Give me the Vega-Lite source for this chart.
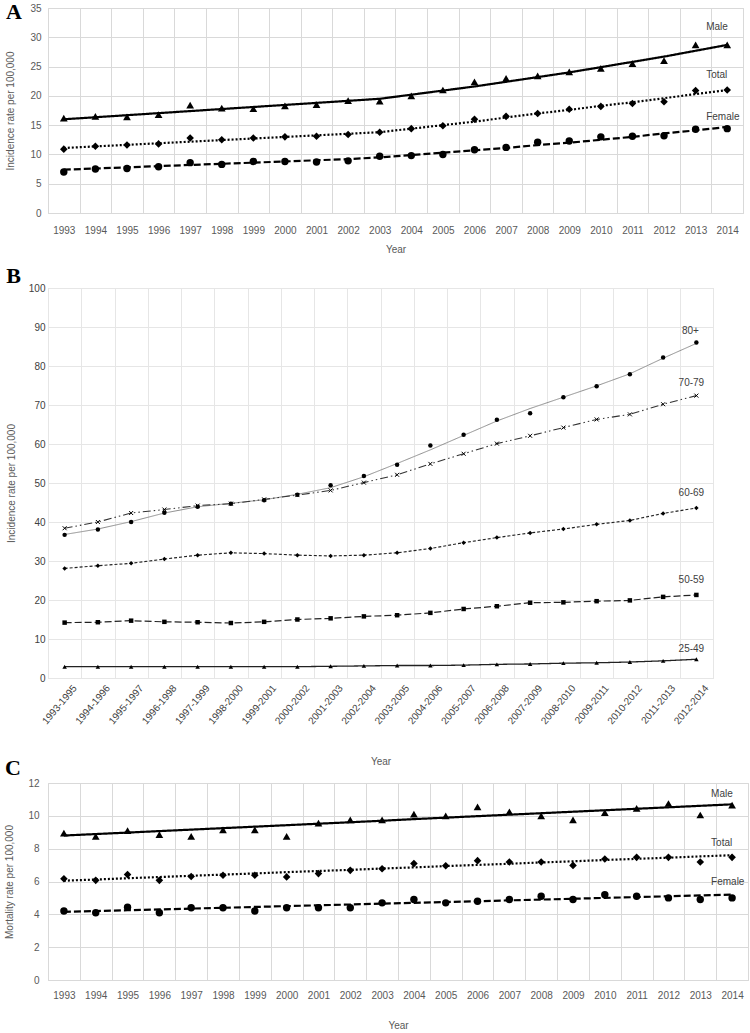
{
  "$schema": "https://vega.github.io/schema/vega-lite/v6.json",
  "padding": {"left": 4, "top": 0, "right": 0, "bottom": 0},
  "background": "white",
  "spacing": -12,
  "align": "none",
  "resolve": {"scale": {"shape": "independent", "size": "independent", "strokeDash": "independent", "color": "independent", "strokeWidth": "independent"}},
  "config": {
    "font": "Liberation Sans",
    "view": {"stroke": "#d9d9d9"},
    "axis": {
      "labelFont": "Liberation Sans", "titleFont": "Liberation Sans",
      "labelFontSize": 10, "titleFontSize": 10, "titleFontWeight": "normal",
      "labelColor": "#595959", "titleColor": "#595959",
      "gridColor": "#d9d9d9", "domainColor": "#d9d9d9", "ticks": false
    },
    "title": {"anchor": "start", "frame": "bounds", "font": "Liberation Serif", "fontSize": 22, "fontWeight": "bold", "color": "black", "offset": 0},
    "text": {"font": "Liberation Sans", "fontSize": 10, "color": "#404040"}
  },
  "datasets": {
    "incidence": [
      {"year":1993,"sex":"Male","rate":16.2,"fit":16.0},{"year":1994,"sex":"Male","rate":16.5,"fit":16.35},{"year":1995,"sex":"Male","rate":16.4,"fit":16.7},{"year":1996,"sex":"Male","rate":16.8,"fit":17.05},{"year":1997,"sex":"Male","rate":18.4,"fit":17.4},{"year":1998,"sex":"Male","rate":17.9,"fit":17.75},{"year":1999,"sex":"Male","rate":17.8,"fit":18.1},{"year":2000,"sex":"Male","rate":18.3,"fit":18.45},{"year":2001,"sex":"Male","rate":18.5,"fit":18.8},{"year":2002,"sex":"Male","rate":19.2,"fit":19.15},{"year":2003,"sex":"Male","rate":19.1,"fit":19.5},{"year":2004,"sex":"Male","rate":20.0,"fit":20.2},{"year":2005,"sex":"Male","rate":21.0,"fit":20.9},{"year":2006,"sex":"Male","rate":22.4,"fit":21.6},{"year":2007,"sex":"Male","rate":23.0,"fit":22.4},{"year":2008,"sex":"Male","rate":23.4,"fit":23.2},{"year":2009,"sex":"Male","rate":24.1,"fit":24.0},{"year":2010,"sex":"Male","rate":24.7,"fit":24.9},{"year":2011,"sex":"Male","rate":25.5,"fit":25.8},{"year":2012,"sex":"Male","rate":26.0,"fit":26.7},{"year":2013,"sex":"Male","rate":28.7,"fit":27.7},{"year":2014,"sex":"Male","rate":28.7,"fit":28.7},
      {"year":1993,"sex":"Total","rate":10.9,"fit":11.1},{"year":1994,"sex":"Total","rate":11.4,"fit":11.37},{"year":1995,"sex":"Total","rate":11.6,"fit":11.64},{"year":1996,"sex":"Total","rate":11.8,"fit":11.91},{"year":1997,"sex":"Total","rate":12.8,"fit":12.18},{"year":1998,"sex":"Total","rate":12.5,"fit":12.45},{"year":1999,"sex":"Total","rate":12.8,"fit":12.72},{"year":2000,"sex":"Total","rate":13.0,"fit":12.99},{"year":2001,"sex":"Total","rate":13.1,"fit":13.26},{"year":2002,"sex":"Total","rate":13.4,"fit":13.53},{"year":2003,"sex":"Total","rate":13.8,"fit":13.8},{"year":2004,"sex":"Total","rate":14.4,"fit":14.4},{"year":2005,"sex":"Total","rate":14.9,"fit":15.0},{"year":2006,"sex":"Total","rate":16.0,"fit":15.6},{"year":2007,"sex":"Total","rate":16.5,"fit":16.3},{"year":2008,"sex":"Total","rate":17.0,"fit":17.0},{"year":2009,"sex":"Total","rate":17.7,"fit":17.6},{"year":2010,"sex":"Total","rate":18.2,"fit":18.3},{"year":2011,"sex":"Total","rate":18.7,"fit":18.9},{"year":2012,"sex":"Total","rate":19.0,"fit":19.6},{"year":2013,"sex":"Total","rate":20.9,"fit":20.3},{"year":2014,"sex":"Total","rate":21.0,"fit":21.0},
      {"year":1993,"sex":"Female","rate":7.0,"fit":7.4},{"year":1994,"sex":"Female","rate":7.5,"fit":7.6},{"year":1995,"sex":"Female","rate":7.6,"fit":7.8},{"year":1996,"sex":"Female","rate":7.9,"fit":8.0},{"year":1997,"sex":"Female","rate":8.6,"fit":8.2},{"year":1998,"sex":"Female","rate":8.3,"fit":8.4},{"year":1999,"sex":"Female","rate":8.8,"fit":8.6},{"year":2000,"sex":"Female","rate":8.8,"fit":8.8},{"year":2001,"sex":"Female","rate":8.7,"fit":9.0},{"year":2002,"sex":"Female","rate":8.9,"fit":9.2},{"year":2003,"sex":"Female","rate":9.7,"fit":9.5},{"year":2004,"sex":"Female","rate":9.8,"fit":9.9},{"year":2005,"sex":"Female","rate":10.0,"fit":10.3},{"year":2006,"sex":"Female","rate":10.8,"fit":10.7},{"year":2007,"sex":"Female","rate":11.2,"fit":11.1},{"year":2008,"sex":"Female","rate":12.1,"fit":11.6},{"year":2009,"sex":"Female","rate":12.3,"fit":12.0},{"year":2010,"sex":"Female","rate":13.0,"fit":12.5},{"year":2011,"sex":"Female","rate":13.1,"fit":13.0},{"year":2012,"sex":"Female","rate":13.2,"fit":13.6},{"year":2013,"sex":"Female","rate":14.3,"fit":14.1},{"year":2014,"sex":"Female","rate":14.4,"fit":14.7}
    ],
    "age": [
      {"period":"1993-1995","age":"80+","rate":36.7,"fit":36.8},{"period":"1994-1996","age":"80+","rate":38.1,"fit":38.2},{"period":"1995-1997","age":"80+","rate":40.0,"fit":40.1},{"period":"1996-1998","age":"80+","rate":42.4,"fit":42.3},{"period":"1997-1999","age":"80+","rate":43.9,"fit":43.9},{"period":"1998-2000","age":"80+","rate":44.7,"fit":44.8},{"period":"1999-2001","age":"80+","rate":45.6,"fit":45.7},{"period":"2000-2002","age":"80+","rate":47.0,"fit":47.1},{"period":"2001-2003","age":"80+","rate":49.4,"fit":48.8},{"period":"2002-2004","age":"80+","rate":51.8,"fit":51.6},{"period":"2003-2005","age":"80+","rate":54.7,"fit":55.0},{"period":"2004-2006","age":"80+","rate":59.6,"fit":58.5},{"period":"2005-2007","age":"80+","rate":62.4,"fit":62.2},{"period":"2006-2008","age":"80+","rate":66.2,"fit":65.9},{"period":"2007-2009","age":"80+","rate":67.9,"fit":69.1},{"period":"2008-2010","age":"80+","rate":72.0,"fit":72.0},{"period":"2009-2011","age":"80+","rate":74.8,"fit":74.9},{"period":"2010-2012","age":"80+","rate":77.9,"fit":78.0},{"period":"2011-2013","age":"80+","rate":82.2,"fit":82.0},{"period":"2012-2014","age":"80+","rate":86.0,"fit":85.8},
      {"period":"1993-1995","age":"70-79","rate":38.4,"fit":38.4},{"period":"1994-1996","age":"70-79","rate":40.0,"fit":40.0},{"period":"1995-1997","age":"70-79","rate":42.3,"fit":42.3},{"period":"1996-1998","age":"70-79","rate":43.2,"fit":43.2},{"period":"1997-1999","age":"70-79","rate":44.2,"fit":44.2},{"period":"1998-2000","age":"70-79","rate":44.7,"fit":44.7},{"period":"1999-2001","age":"70-79","rate":45.8,"fit":45.8},{"period":"2000-2002","age":"70-79","rate":46.9,"fit":46.9},{"period":"2001-2003","age":"70-79","rate":48.1,"fit":48.1},{"period":"2002-2004","age":"70-79","rate":50.1,"fit":50.1},{"period":"2003-2005","age":"70-79","rate":52.1,"fit":52.1},{"period":"2004-2006","age":"70-79","rate":54.9,"fit":54.9},{"period":"2005-2007","age":"70-79","rate":57.5,"fit":57.5},{"period":"2006-2008","age":"70-79","rate":60.1,"fit":60.1},{"period":"2007-2009","age":"70-79","rate":62.1,"fit":62.1},{"period":"2008-2010","age":"70-79","rate":64.2,"fit":64.2},{"period":"2009-2011","age":"70-79","rate":66.3,"fit":66.3},{"period":"2010-2012","age":"70-79","rate":67.6,"fit":67.6},{"period":"2011-2013","age":"70-79","rate":70.2,"fit":70.2},{"period":"2012-2014","age":"70-79","rate":72.4,"fit":72.4},
      {"period":"1993-1995","age":"60-69","rate":28.1,"fit":28.1},{"period":"1994-1996","age":"60-69","rate":28.8,"fit":28.8},{"period":"1995-1997","age":"60-69","rate":29.4,"fit":29.4},{"period":"1996-1998","age":"60-69","rate":30.5,"fit":30.5},{"period":"1997-1999","age":"60-69","rate":31.5,"fit":31.5},{"period":"1998-2000","age":"60-69","rate":32.1,"fit":32.1},{"period":"1999-2001","age":"60-69","rate":31.9,"fit":31.9},{"period":"2000-2002","age":"60-69","rate":31.5,"fit":31.5},{"period":"2001-2003","age":"60-69","rate":31.3,"fit":31.3},{"period":"2002-2004","age":"60-69","rate":31.5,"fit":31.5},{"period":"2003-2005","age":"60-69","rate":32.1,"fit":32.1},{"period":"2004-2006","age":"60-69","rate":33.2,"fit":33.2},{"period":"2005-2007","age":"60-69","rate":34.7,"fit":34.7},{"period":"2006-2008","age":"60-69","rate":36.0,"fit":36.0},{"period":"2007-2009","age":"60-69","rate":37.2,"fit":37.2},{"period":"2008-2010","age":"60-69","rate":38.2,"fit":38.2},{"period":"2009-2011","age":"60-69","rate":39.4,"fit":39.4},{"period":"2010-2012","age":"60-69","rate":40.4,"fit":40.4},{"period":"2011-2013","age":"60-69","rate":42.2,"fit":42.2},{"period":"2012-2014","age":"60-69","rate":43.6,"fit":43.6},
      {"period":"1993-1995","age":"50-59","rate":14.2,"fit":14.2},{"period":"1994-1996","age":"50-59","rate":14.3,"fit":14.3},{"period":"1995-1997","age":"50-59","rate":14.7,"fit":14.7},{"period":"1996-1998","age":"50-59","rate":14.4,"fit":14.4},{"period":"1997-1999","age":"50-59","rate":14.3,"fit":14.3},{"period":"1998-2000","age":"50-59","rate":14.1,"fit":14.1},{"period":"1999-2001","age":"50-59","rate":14.4,"fit":14.4},{"period":"2000-2002","age":"50-59","rate":15.0,"fit":15.0},{"period":"2001-2003","age":"50-59","rate":15.3,"fit":15.3},{"period":"2002-2004","age":"50-59","rate":15.8,"fit":15.8},{"period":"2003-2005","age":"50-59","rate":16.1,"fit":16.1},{"period":"2004-2006","age":"50-59","rate":16.7,"fit":16.7},{"period":"2005-2007","age":"50-59","rate":17.7,"fit":17.7},{"period":"2006-2008","age":"50-59","rate":18.4,"fit":18.4},{"period":"2007-2009","age":"50-59","rate":19.3,"fit":19.3},{"period":"2008-2010","age":"50-59","rate":19.4,"fit":19.4},{"period":"2009-2011","age":"50-59","rate":19.7,"fit":19.7},{"period":"2010-2012","age":"50-59","rate":19.9,"fit":19.9},{"period":"2011-2013","age":"50-59","rate":20.8,"fit":20.8},{"period":"2012-2014","age":"50-59","rate":21.3,"fit":21.3},
      {"period":"1993-1995","age":"25-49","rate":2.9,"fit":2.9},{"period":"1994-1996","age":"25-49","rate":2.9,"fit":2.9},{"period":"1995-1997","age":"25-49","rate":2.9,"fit":2.9},{"period":"1996-1998","age":"25-49","rate":2.9,"fit":2.9},{"period":"1997-1999","age":"25-49","rate":2.9,"fit":2.9},{"period":"1998-2000","age":"25-49","rate":2.9,"fit":2.9},{"period":"1999-2001","age":"25-49","rate":2.9,"fit":2.9},{"period":"2000-2002","age":"25-49","rate":2.9,"fit":2.9},{"period":"2001-2003","age":"25-49","rate":3.0,"fit":3.0},{"period":"2002-2004","age":"25-49","rate":3.1,"fit":3.1},{"period":"2003-2005","age":"25-49","rate":3.2,"fit":3.2},{"period":"2004-2006","age":"25-49","rate":3.2,"fit":3.2},{"period":"2005-2007","age":"25-49","rate":3.3,"fit":3.3},{"period":"2006-2008","age":"25-49","rate":3.5,"fit":3.5},{"period":"2007-2009","age":"25-49","rate":3.6,"fit":3.6},{"period":"2008-2010","age":"25-49","rate":3.8,"fit":3.8},{"period":"2009-2011","age":"25-49","rate":3.9,"fit":3.9},{"period":"2010-2012","age":"25-49","rate":4.1,"fit":4.1},{"period":"2011-2013","age":"25-49","rate":4.4,"fit":4.4},{"period":"2012-2014","age":"25-49","rate":4.8,"fit":4.8}
    ],
    "mortality": [
      {"year":1993,"sex":"Male","rate":8.95,"fit":8.8},{"year":1994,"sex":"Male","rate":8.75,"fit":8.89},{"year":1995,"sex":"Male","rate":9.1,"fit":8.98},{"year":1996,"sex":"Male","rate":8.85,"fit":9.07},{"year":1997,"sex":"Male","rate":8.75,"fit":9.16},{"year":1998,"sex":"Male","rate":9.15,"fit":9.25},{"year":1999,"sex":"Male","rate":9.15,"fit":9.34},{"year":2000,"sex":"Male","rate":8.75,"fit":9.43},{"year":2001,"sex":"Male","rate":9.55,"fit":9.52},{"year":2002,"sex":"Male","rate":9.75,"fit":9.61},{"year":2003,"sex":"Male","rate":9.75,"fit":9.7},{"year":2004,"sex":"Male","rate":10.1,"fit":9.8},{"year":2005,"sex":"Male","rate":10.0,"fit":9.89},{"year":2006,"sex":"Male","rate":10.55,"fit":9.98},{"year":2007,"sex":"Male","rate":10.25,"fit":10.07},{"year":2008,"sex":"Male","rate":10.0,"fit":10.16},{"year":2009,"sex":"Male","rate":9.75,"fit":10.25},{"year":2010,"sex":"Male","rate":10.2,"fit":10.34},{"year":2011,"sex":"Male","rate":10.45,"fit":10.43},{"year":2012,"sex":"Male","rate":10.75,"fit":10.52},{"year":2013,"sex":"Male","rate":10.05,"fit":10.61},{"year":2014,"sex":"Male","rate":10.65,"fit":10.7},
      {"year":1993,"sex":"Total","rate":6.17,"fit":6.05},{"year":1994,"sex":"Total","rate":6.07,"fit":6.12},{"year":1995,"sex":"Total","rate":6.42,"fit":6.2},{"year":1996,"sex":"Total","rate":6.07,"fit":6.27},{"year":1997,"sex":"Total","rate":6.3,"fit":6.35},{"year":1998,"sex":"Total","rate":6.38,"fit":6.42},{"year":1999,"sex":"Total","rate":6.38,"fit":6.49},{"year":2000,"sex":"Total","rate":6.28,"fit":6.57},{"year":2001,"sex":"Total","rate":6.48,"fit":6.64},{"year":2002,"sex":"Total","rate":6.68,"fit":6.71},{"year":2003,"sex":"Total","rate":6.78,"fit":6.79},{"year":2004,"sex":"Total","rate":7.09,"fit":6.86},{"year":2005,"sex":"Total","rate":6.96,"fit":6.94},{"year":2006,"sex":"Total","rate":7.27,"fit":7.01},{"year":2007,"sex":"Total","rate":7.19,"fit":7.08},{"year":2008,"sex":"Total","rate":7.19,"fit":7.16},{"year":2009,"sex":"Total","rate":6.98,"fit":7.23},{"year":2010,"sex":"Total","rate":7.37,"fit":7.31},{"year":2011,"sex":"Total","rate":7.47,"fit":7.38},{"year":2012,"sex":"Total","rate":7.47,"fit":7.45},{"year":2013,"sex":"Total","rate":7.19,"fit":7.53},{"year":2014,"sex":"Total","rate":7.47,"fit":7.6},
      {"year":1993,"sex":"Female","rate":4.2,"fit":4.15},{"year":1994,"sex":"Female","rate":4.1,"fit":4.2},{"year":1995,"sex":"Female","rate":4.43,"fit":4.25},{"year":1996,"sex":"Female","rate":4.1,"fit":4.3},{"year":1997,"sex":"Female","rate":4.4,"fit":4.35},{"year":1998,"sex":"Female","rate":4.4,"fit":4.4},{"year":1999,"sex":"Female","rate":4.2,"fit":4.45},{"year":2000,"sex":"Female","rate":4.4,"fit":4.5},{"year":2001,"sex":"Female","rate":4.4,"fit":4.55},{"year":2002,"sex":"Female","rate":4.4,"fit":4.6},{"year":2003,"sex":"Female","rate":4.7,"fit":4.65},{"year":2004,"sex":"Female","rate":4.9,"fit":4.7},{"year":2005,"sex":"Female","rate":4.7,"fit":4.75},{"year":2006,"sex":"Female","rate":4.8,"fit":4.8},{"year":2007,"sex":"Female","rate":4.9,"fit":4.85},{"year":2008,"sex":"Female","rate":5.1,"fit":4.9},{"year":2009,"sex":"Female","rate":4.9,"fit":4.95},{"year":2010,"sex":"Female","rate":5.2,"fit":5.0},{"year":2011,"sex":"Female","rate":5.1,"fit":5.05},{"year":2012,"sex":"Female","rate":5.0,"fit":5.1},{"year":2013,"sex":"Female","rate":4.9,"fit":5.15},{"year":2014,"sex":"Female","rate":5.0,"fit":5.2}
    ]
  },
  "vconcat": [
    {
      "title": {"text": "A", "dy": 25},
      "width": 695, "height": 205,
      "data": {"name": "incidence"},
      "transform": [{"fold": ["rate", "fit"], "as": ["kind", "value"]}],
      "encoding": {
        "x": {"field": "year", "type": "ordinal", "scale": {"type": "band", "paddingInner": 0, "paddingOuter": 0},
              "axis": {"title": "Year", "labelAngle": 0, "tickBand": "extent", "grid": true, "labelPadding": 12, "titlePadding": 9}},
        "y": {"field": "value", "type": "quantitative", "scale": {"domain": [0, 35], "nice": false},
              "axis": {"title": "Incidence rate  per 100,000", "values": [0,5,10,15,20,25,30,35], "grid": true, "labelOverlap": false, "domain": false, "labelPadding": 7, "titlePadding": 14}}
      },
      "layer": [
        {
          "transform": [{"filter": "datum.kind == 'fit'"}],
          "mark": {"type": "line", "color": "black", "strokeWidth": 2.2},
          "encoding": {
            "strokeDash": {"field": "sex", "type": "nominal", "scale": {"domain": ["Male","Total","Female"], "range": [[1,0],[2,2],[7,3]]}, "legend": null}
          }
        },
        {
          "transform": [{"filter": "datum.kind == 'rate'"}],
          "mark": {"type": "point", "filled": true, "color": "black", "opacity": 1},
          "encoding": {
            "shape": {"field": "sex", "type": "nominal", "scale": {"domain": ["Male","Total","Female"], "range": ["triangle-up","diamond","circle"]}, "legend": null},
            "size": {"field": "sex", "type": "nominal", "scale": {"domain": ["Male","Total","Female"], "range": [60, 55, 45]}, "legend": null}
          }
        },
        {
          "transform": [{"filter": "datum.kind == 'rate' && datum.year == 2014 && datum.sex == 'Male'"}],
          "mark": {"type": "text", "align": "left", "dx": -21, "dy": -18},
          "encoding": {"text": {"field": "sex"}}
        },
        {
          "transform": [{"filter": "datum.kind == 'rate' && datum.year == 2014 && datum.sex == 'Total'"}],
          "mark": {"type": "text", "align": "left", "dx": -21, "dy": -15},
          "encoding": {"text": {"field": "sex"}}
        },
        {
          "transform": [{"filter": "datum.kind == 'rate' && datum.year == 2014 && datum.sex == 'Female'"}],
          "mark": {"type": "text", "align": "left", "dx": -21, "dy": -12},
          "encoding": {"text": {"field": "sex"}}
        }
      ]
    },
    {
      "title": {"text": ["", "B"], "dy": 9, "lineHeight": 21},
      "width": 665, "height": 390,
      "data": {"name": "age"},
      "transform": [{"fold": ["rate", "fit"], "as": ["kind", "value"]}],
      "encoding": {
        "x": {"field": "period", "type": "ordinal", "scale": {"type": "band", "paddingInner": 0, "paddingOuter": 0},
              "axis": {"title": "Year", "labelAngle": -50, "labelAlign": "right", "labelBaseline": "middle", "labelOffset": 10, "tickBand": "extent", "grid": true, "gridColor": "#e6e6e6", "domainColor": "#e6e6e6", "labelPadding": 8, "titlePadding": 31, "labelColor": "#404040"}},
        "y": {"field": "value", "type": "quantitative", "scale": {"domain": [0, 100], "nice": false},
              "axis": {"title": "Incidence rate  per 100,000", "values": [0,10,20,30,40,50,60,70,80,90,100], "grid": true, "labelOverlap": false, "domain": false, "gridColor": "#e6e6e6", "labelPadding": 3, "titlePadding": 12, "labelColor": "#404040"}}
      },
      "layer": [
        {
          "transform": [{"filter": "datum.kind == 'fit'"}],
          "mark": {"type": "line"},
          "encoding": {
            "strokeDash": {"field": "age", "type": "nominal", "scale": {"domain": ["80+","70-79","60-69","50-59","25-49"], "range": [[1,0],[8,3,1.5,3,1.5,3],[3,2],[7,3],[1,0]]}, "legend": null},
            "color": {"field": "age", "type": "nominal", "scale": {"domain": ["80+","70-79","60-69","50-59","25-49"], "range": ["#8c8c8c","#333333","#222222","#222222","#222222"]}, "legend": null},
            "strokeWidth": {"field": "age", "type": "nominal", "scale": {"domain": ["80+","70-79","60-69","50-59","25-49"], "range": [1,1.3,1.5,1.5,1.5]}, "legend": null}
          }
        },
        {
          "transform": [{"filter": "datum.kind == 'rate' && datum.age != '70-79'"}],
          "mark": {"type": "point", "filled": true, "color": "black", "opacity": 1, "size": 20},
          "encoding": {
            "shape": {"field": "age", "type": "nominal", "scale": {"domain": ["80+","60-69","50-59","25-49"], "range": ["circle","diamond","square","triangle-up"]}, "legend": null}
          }
        },
        {
          "transform": [{"filter": "datum.kind == 'rate' && datum.age == '70-79'"}],
          "mark": {"type": "point", "filled": false, "color": "black", "opacity": 1, "strokeWidth": 1, "shape": "M-1,-1L1,1M-1,1L1,-1", "size": 16}
        },
        {
          "transform": [{"filter": "datum.kind == 'rate' && datum.period == '2012-2014' && datum.age == '80+'"}],
          "mark": {"type": "text", "align": "center", "dx": -6, "dy": -12},
          "encoding": {"text": {"field": "age"}}
        },
        {
          "transform": [{"filter": "datum.kind == 'rate' && datum.period == '2012-2014' && datum.age == '70-79'"}],
          "mark": {"type": "text", "align": "center", "dx": -5, "dy": -13},
          "encoding": {"text": {"field": "age"}}
        },
        {
          "transform": [{"filter": "datum.kind == 'rate' && datum.period == '2012-2014' && (datum.age == '60-69' || datum.age == '50-59')"}],
          "mark": {"type": "text", "align": "center", "dx": -5, "dy": -15},
          "encoding": {"text": {"field": "age"}}
        },
        {
          "transform": [{"filter": "datum.kind == 'rate' && datum.period == '2012-2014' && datum.age == '25-49'"}],
          "mark": {"type": "text", "align": "center", "dx": -5, "dy": -10},
          "encoding": {"text": {"field": "age"}}
        }
      ]
    },
    {
      "title": {"text": "C", "dy": 6},
      "width": 700, "height": 197,
      "data": {"name": "mortality"},
      "transform": [{"fold": ["rate", "fit"], "as": ["kind", "value"]}],
      "encoding": {
        "x": {"field": "year", "type": "ordinal", "scale": {"type": "band", "paddingInner": 0, "paddingOuter": 0},
              "axis": {"title": "Year", "labelAngle": 0, "tickBand": "extent", "grid": true, "labelPadding": 10, "titlePadding": 20}},
        "y": {"field": "value", "type": "quantitative", "scale": {"domain": [0, 12], "nice": false},
              "axis": {"title": "Mortality rate  per 100,000", "values": [0,2,4,6,8,10,12], "grid": true, "labelOverlap": false, "domain": false, "labelPadding": 9, "titlePadding": 13}}
      },
      "layer": [
        {
          "transform": [{"filter": "datum.kind == 'fit'"}],
          "mark": {"type": "line", "color": "black", "strokeWidth": 2.2},
          "encoding": {
            "strokeDash": {"field": "sex", "type": "nominal", "scale": {"domain": ["Male","Total","Female"], "range": [[1,0],[2,2],[7,3]]}, "legend": null}
          }
        },
        {
          "transform": [{"filter": "datum.kind == 'rate'"}],
          "mark": {"type": "point", "filled": true, "color": "black", "opacity": 1},
          "encoding": {
            "shape": {"field": "sex", "type": "nominal", "scale": {"domain": ["Male","Total","Female"], "range": ["triangle-up","diamond","circle"]}, "legend": null},
            "size": {"field": "sex", "type": "nominal", "scale": {"domain": ["Male","Total","Female"], "range": [60, 55, 45]}, "legend": null}
          }
        },
        {
          "transform": [{"filter": "datum.kind == 'rate' && datum.year == 2014 && datum.sex == 'Male'"}],
          "mark": {"type": "text", "align": "left", "dx": -21, "dy": -11},
          "encoding": {"text": {"field": "sex"}}
        },
        {
          "transform": [{"filter": "datum.kind == 'rate' && datum.year == 2014 && datum.sex == 'Total'"}],
          "mark": {"type": "text", "align": "left", "dx": -21, "dy": -14},
          "encoding": {"text": {"field": "sex"}}
        },
        {
          "transform": [{"filter": "datum.kind == 'rate' && datum.year == 2014 && datum.sex == 'Female'"}],
          "mark": {"type": "text", "align": "left", "dx": -21, "dy": -16},
          "encoding": {"text": {"field": "sex"}}
        }
      ]
    }
  ]
}
